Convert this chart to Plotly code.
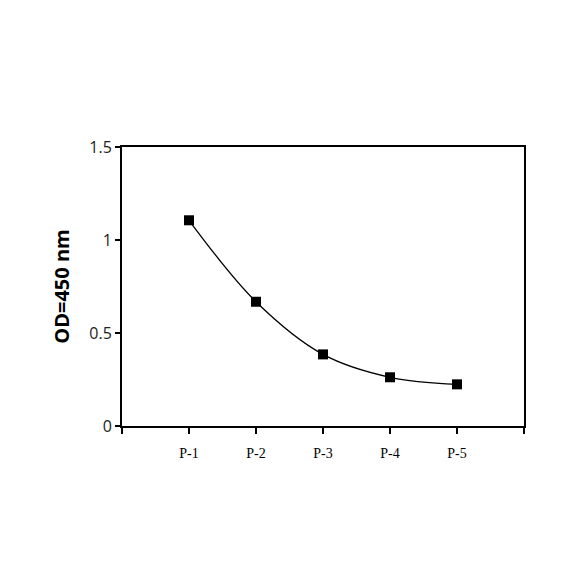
import plotly.graph_objects as go

# data
samples = ['P-1', 'P-2', 'P-3', 'P-4', 'P-5']
od450 = [1.106, 0.668, 0.385, 0.262, 0.224]

x_pos = [i + 1 for i in range(len(samples))]
tick_pos = list(range(len(samples) + 2))
tick_txt = [''] + samples + ['']

fig = go.Figure()
fig.add_trace(go.Scatter(
    x=x_pos, y=od450,
    mode='lines+markers',
    line=dict(color='black', width=1.3, shape='spline', smoothing=1),
    marker=dict(symbol='square', size=10, color='black'),
    showlegend=False,
))

# page body adds an 8px offset, so margins are shifted to compensate
fig.update_layout(
    width=584, height=584,
    margin=dict(l=114, r=68, t=139, b=166),
    plot_bgcolor='white', paper_bgcolor='white',
)
fig.update_xaxes(
    range=[0, len(samples) + 1],
    tickmode='array', tickvals=tick_pos, ticktext=tick_txt,
    ticks='outside', ticklen=6, tickwidth=2, tickcolor='black',
    ticklabelstandoff=7,
    showline=True, linewidth=2, linecolor='black', mirror=True,
    showgrid=False, zeroline=False,
    tickfont=dict(family='Liberation Serif', size=14, color='black'),
)
fig.update_yaxes(
    range=[0, 1.5],
    tickmode='array', tickvals=[0, 0.5, 1, 1.5], ticktext=['0', '0.5', '1', '1.5'],
    ticks='outside', ticklen=5, tickwidth=2, tickcolor='black',
    showline=True, linewidth=2, linecolor='black', mirror=True,
    showgrid=False, zeroline=False,
    tickfont=dict(family='Open Sans', size=16, color='#222'),
    title=dict(text='<b>OD=450 nm</b>', standoff=14,
               font=dict(family='Open Sans', size=20, color='black')),
)

fig.write_html('out.html')
